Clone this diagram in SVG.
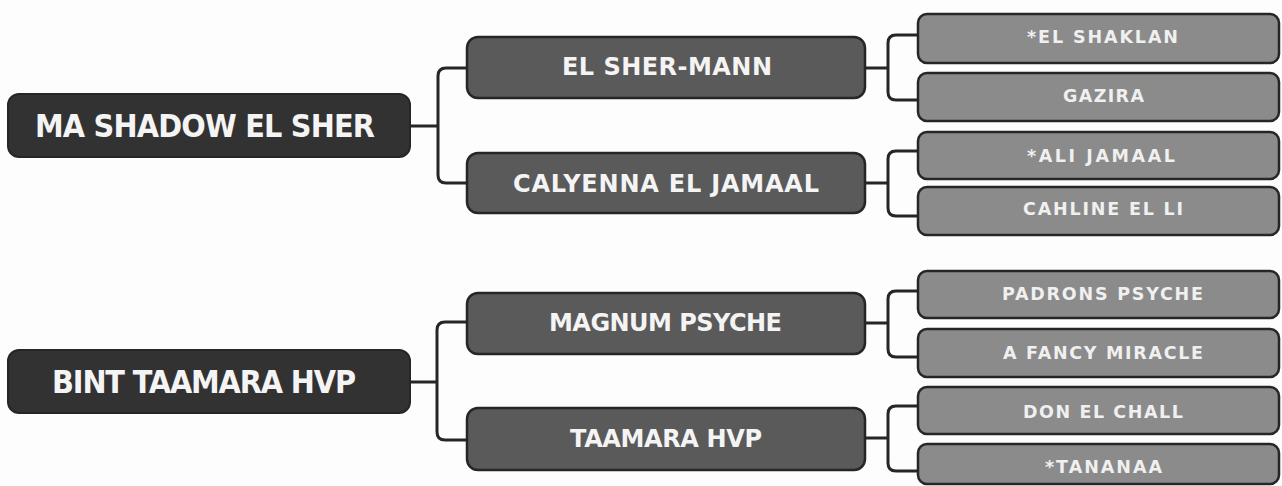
<svg xmlns="http://www.w3.org/2000/svg" width="1282" height="486" viewBox="0 0 1282 486">
<style>
.bg{fill:#fdfdfd}
.root rect{fill:#323232;stroke:#262626;stroke-width:2}
.mid rect{fill:#5a5a5a;stroke:#262626;stroke-width:2.5}
.leaf rect{fill:#8b8b8b;stroke:#262626;stroke-width:2.5}
text{font-family:"DejaVu Sans Condensed","DejaVu Sans","Liberation Sans",sans-serif;font-weight:bold;fill:#f4f4f4}
.root text{font-size:32px}
.mid text{font-size:24px;font-family:"DejaVu Sans","Liberation Sans",sans-serif}
.leaf text{font-size:17.5px;fill:#f0f0f0;font-family:"DejaVu Sans","Liberation Sans",sans-serif}
.conn path{fill:none;stroke:#262626;stroke-width:3;stroke-linejoin:round}
</style>
<rect class="bg" x="0" y="0" width="1282" height="486"/>
<g class="conn" id="connectors">
<path d="M410,126 H438 M467,68 H446 Q438,68 438,76 V175 Q438,183 446,183 H467"/>
<path d="M410,382 H437 M467,322 H445 Q437,322 437,330 V432 Q437,440 445,440 H467"/>
<path d="M865,68 H888 M918,35 H896 Q888,35 888,43 V92 Q888,100 896,100 H918"/>
<path d="M865,183 H888 M918,151 H896 Q888,151 888,159 V208 Q888,216 896,216 H918"/>
<path d="M865,323 H888 M918,291 H896 Q888,291 888,299 V349 Q888,357 896,357 H918"/>
<path d="M865,438 H888 M918,406 H896 Q888,406 888,414 V463 Q888,471 896,471 H918"/>
</g>
<g class="root" id="n-ma-shadow"><rect x="8" y="94" width="402" height="63" rx="11"/><text x="35" y="137" textLength="340" lengthAdjust="spacing">MA SHADOW EL SHER</text></g>
<g class="root" id="n-bint-taamara"><rect x="8" y="350" width="402" height="63" rx="11"/><text x="52" y="393" textLength="304" lengthAdjust="spacing">BINT TAAMARA HVP</text></g>
<g class="mid" id="n-el-sher-mann"><rect x="467" y="37" width="398" height="61" rx="11"/><text x="562" y="75" textLength="210" lengthAdjust="spacing">EL SHER-MANN</text></g>
<g class="mid" id="n-calyenna"><rect x="467" y="153" width="398" height="60" rx="11"/><text x="513" y="192" textLength="306" lengthAdjust="spacing">CALYENNA EL JAMAAL</text></g>
<g class="mid" id="n-magnum"><rect x="467" y="293" width="398" height="61" rx="11"/><text x="549" y="331" textLength="233" lengthAdjust="spacing">MAGNUM PSYCHE</text></g>
<g class="mid" id="n-taamara"><rect x="467" y="408" width="398" height="62" rx="11"/><text x="570" y="447" textLength="192" lengthAdjust="spacing">TAAMARA HVP</text></g>
<g class="leaf" id="n-el-shaklan"><rect x="918" y="14" width="361" height="49" rx="9"/><text x="1027" y="43" textLength="151" lengthAdjust="spacing">*EL SHAKLAN</text></g>
<g class="leaf" id="n-gazira"><rect x="918" y="73" width="361" height="48" rx="9"/><text x="1063" y="102" textLength="81" lengthAdjust="spacing">GAZIRA</text></g>
<g class="leaf" id="n-ali-jamaal"><rect x="918" y="132" width="361" height="47" rx="9"/><text x="1027" y="162" textLength="148" lengthAdjust="spacing">*ALI JAMAAL</text></g>
<g class="leaf" id="n-cahline"><rect x="918" y="187" width="361" height="48" rx="9"/><text x="1023" y="215" textLength="160" lengthAdjust="spacing">CAHLINE EL LI</text></g>
<g class="leaf" id="n-padrons"><rect x="918" y="271" width="361" height="47" rx="9"/><text x="1002" y="300" textLength="201" lengthAdjust="spacing">PADRONS PSYCHE</text></g>
<g class="leaf" id="n-fancy"><rect x="918" y="329" width="361" height="48" rx="9"/><text x="1003" y="359" textLength="200" lengthAdjust="spacing">A FANCY MIRACLE</text></g>
<g class="leaf" id="n-don"><rect x="918" y="387" width="361" height="47" rx="9"/><text x="1023" y="418" textLength="160" lengthAdjust="spacing">DON EL CHALL</text></g>
<g class="leaf" id="n-tananaa"><rect x="918" y="444" width="361" height="40" rx="9"/><text x="1045" y="473" textLength="117" lengthAdjust="spacing">*TANANAA</text></g>
</svg>
